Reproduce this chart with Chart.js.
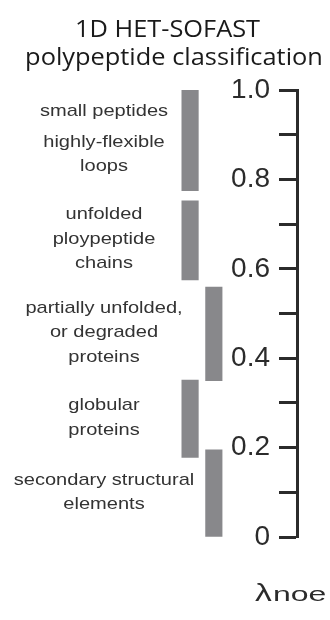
<!DOCTYPE html>
<html>
<head>
<meta charset="utf-8">
<script src="https://cdn.jsdelivr.net/npm/chart.js@4/dist/chart.umd.min.js"></script>
<style>
  html, body { margin: 0; padding: 0; background: #ffffff; }
  #wrap { width: 330px; height: 620px; position: relative; }
</style>
</head>
<body>
<div id="wrap"><canvas id="chart" width="330" height="620"></canvas></div>
<script>
// Polypeptide classes and their lambda_noe ranges
const classLabels = [
  ['small peptides', '', 'highly-flexible', 'loops'],
  ['unfolded', 'ploypeptide', 'chains'],
  ['partially unfolded,', 'or degraded', 'proteins'],
  ['globular', 'proteins'],
  ['secondary structural', 'elements']
];
const noeLow  = [0.775, 0.575, 0.35, 0.178, 0.0];
const noeHigh = [1.0, 0.752, 0.559, 0.351, 0.195];
// which of the two staggered columns each range sits in
const lane = [0, 0, 1, 0, 1];
const yTickLabels = ['0', '', '0.2', '', '0.4', '', '0.6', '', '0.8', '', '1.0'];
const titleLines = ['1D HET-SOFAST', 'polypeptide classification'];
const axisSymbol = 'λ';
const axisSubscript = 'noe';

const INK = '#2b2b2b';
const LABEL_INK = '#333333';
const SANS = '"Liberation Sans", Arial, Helvetica, sans-serif';

// horizontal layout of the plot: lane 0 and lane 1 are one unit apart
const LANE_MIN = -8, LANE_MAX = 4.5;
const UNIT_PX = 297 / (LANE_MAX - LANE_MIN);
const AXIS_AT = LANE_MAX;
const TICK_TEXT_AT = LANE_MAX - 27 / UNIT_PX;

function stretchedText(ctx, text, x, y, font, sx, align, color) {
  ctx.save();
  ctx.font = font;
  ctx.fillStyle = color;
  ctx.textAlign = align;
  ctx.textBaseline = 'alphabetic';
  ctx.translate(x, y);
  ctx.scale(sx, 1);
  ctx.fillText(text, 0, 0);
  ctx.restore();
}

const annotations = {
  id: 'annotations',
  afterDraw(chart) {
    const ctx = chart.ctx;
    const y = chart.scales.y;

    // title
    const tFont = '23.4px "Open Sans", sans-serif';
    stretchedText(ctx, titleLines[0], 167.5, 36.5, tFont, 1.085, 'center', '#1a1a1a');
    stretchedText(ctx, titleLines[1], 174, 65, tFont, 1.085, 'center', '#1a1a1a');

    // class labels, centred on each range
    const lineH = 24.5, gapH = 6;
    classLabels.forEach((lines, i) => {
      const mid = y.getPixelForValue((noeLow[i] + noeHigh[i]) / 2);
      const H = lines.reduce((s, l) => s + (l === '' ? gapH : lineH), 0);
      let cur = mid - H / 2;
      lines.forEach(l => {
        const h = l === '' ? gapH : lineH;
        if (l !== '') {
          stretchedText(ctx, l, 104, cur + h / 2 + 3.5, '17px ' + SANS, 1.18, 'center', LABEL_INK);
        }
        cur += h;
      });
    });

    // axis name
    stretchedText(ctx, axisSymbol, 255, 601, '24px ' + SANS, 1.4, 'left', INK);
    stretchedText(ctx, axisSubscript, 273, 601, '20px ' + SANS, 1.6, 'left', INK);
  }
};

new Chart(document.getElementById('chart'), {
  type: 'bar',
  data: {
    datasets: [{
      data: noeLow.map((lo, i) => ({ x: lane[i], y: [lo, noeHigh[i]] })),
      backgroundColor: '#88888b',
      borderWidth: 0,
      barThickness: 16.5,
      grouped: false,
      yAxisID: 'y'
    }]
  },
  options: {
    responsive: false,
    animation: false,
    layout: { padding: { top: 90, bottom: 83, left: 0, right: 33 } },
    plugins: {
      legend: { display: false },
      tooltip: { enabled: false },
      title: { display: false }
    },
    scales: {
      x: { type: 'linear', min: LANE_MIN, max: LANE_MAX, offset: false, display: false },
      // axis line with inward tick marks
      y: {
        type: 'linear',
        min: 0,
        max: 1,
        position: { x: AXIS_AT },
        border: { display: true, width: 3, color: INK },
        grid: { drawOnChartArea: false, drawTicks: true, tickLength: 17, tickWidth: 3, tickColor: INK },
        ticks: { stepSize: 0.1, autoSkip: false, display: false }
      },
      // tick numbers, right-aligned left of the tick marks
      yText: {
        type: 'linear',
        min: 0,
        max: 1,
        position: { x: TICK_TEXT_AT },
        border: { display: false },
        grid: { display: false },
        ticks: {
          stepSize: 0.1,
          autoSkip: false,
          color: INK,
          font: { family: SANS, size: 28 },
          callback: (v, i) => yTickLabels[i]
        }
      }
    }
  },
  plugins: [annotations]
});
</script>
</body>
</html>
